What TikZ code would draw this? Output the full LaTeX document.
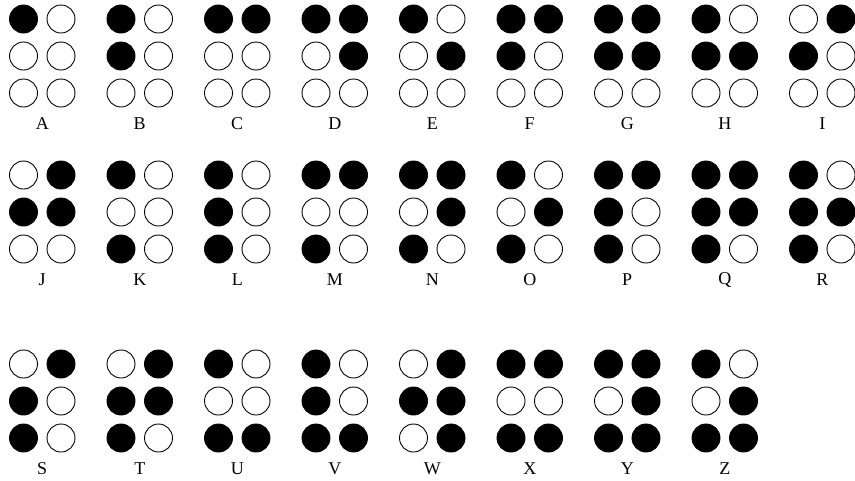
\documentclass[tikz,border=0pt]{standalone}
\usepackage{fontspec}
\setmainfont{Liberation Serif}

\tikzset{
  dot/.style={circle, draw, line width=0.9pt, minimum size=28pt, inner sep=0pt},
  on/.style={fill=black},
  off/.style={fill=white},
  letter/.style={font=\fontsize{18}{20}\selectfont, inner sep=0pt}
}

\begin{document}
\begin{tikzpicture}[x=1pt, y=-1pt]
  \useasboundingbox (0,0) rectangle (855,480);
  \foreach \l/\c/\y/\pat in {
      A/0/19/{on,off,off,off,off,off}, B/1/19/{on,on,off,off,off,off},
      C/2/19/{on,off,off,on,off,off}, D/3/19/{on,off,off,on,on,off},
      E/4/19/{on,off,off,off,on,off}, F/5/19/{on,on,off,on,off,off},
      G/6/19/{on,on,off,on,on,off}, H/7/19/{on,on,off,off,on,off},
      I/8/19/{off,on,off,on,off,off},
      J/0/175/{off,on,off,on,on,off}, K/1/175/{on,off,on,off,off,off},
      L/2/175/{on,on,on,off,off,off}, M/3/175/{on,off,on,on,off,off},
      N/4/175/{on,off,on,on,on,off}, O/5/175/{on,off,on,off,on,off},
      P/6/175/{on,on,on,on,off,off}, Q/7/175/{on,on,on,on,on,off},
      R/8/175/{on,on,on,off,on,off},
      S/0/364/{off,on,on,on,off,off}, T/1/364/{off,on,on,on,on,off},
      U/2/364/{on,off,on,off,off,on}, V/3/364/{on,on,on,off,off,on},
      W/4/364/{off,on,off,on,on,on}, X/5/364/{on,off,on,on,off,on},
      Y/6/364/{on,off,on,on,on,on}, Z/7/364/{on,off,on,off,on,on}} {
    \pgfmathsetmacro\x{23.5+97.5*\c}
    \foreach \s [count=\d] in \pat {
      \pgfmathsetmacro\px{\x+(\d>3)*37.5}
      \pgfmathsetmacro\py{\y+mod(\d-1,3)*37}
      \node[dot, \s] (\l\d) at (\px,\py) {};
    }
    \node[letter] (lab\l) at (\x+18.75, \y+105) {\l};
  }
\end{tikzpicture}
\end{document}
